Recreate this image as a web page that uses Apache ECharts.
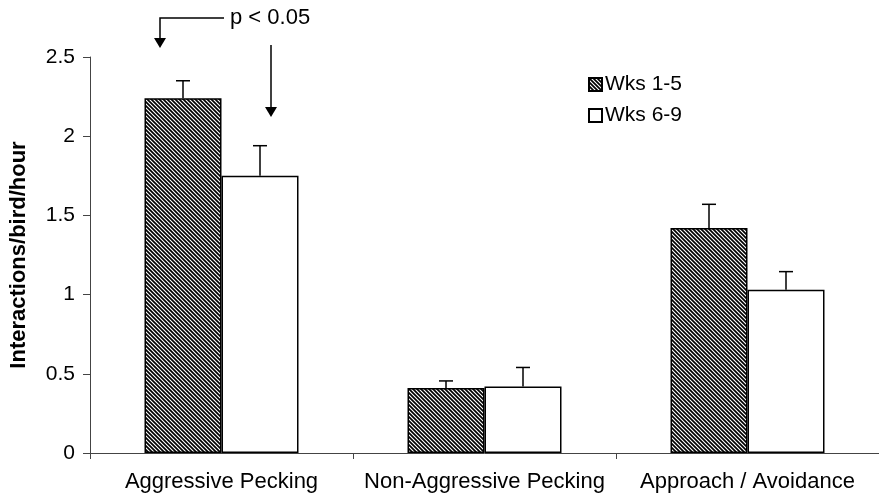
<!DOCTYPE html>
<html>
<head>
<meta charset="utf-8">
<script src="https://cdn.jsdelivr.net/npm/echarts@6/dist/echarts.min.js"></script>
<style>html,body{margin:0;padding:0;background:#fff;}#c{width:879px;height:497px;}</style>
</head>
<body>
<div id="c"></div>
<script>
var categories = ['Aggressive Pecking', 'Non-Aggressive Pecking', 'Approach / Avoidance'];
var seriesNames = ['Wks 1-5', 'Wks 6-9'];
var wks15 = [2.24, 0.41, 1.42];
var wks15Err = [0.11, 0.045, 0.15];
var wks69 = [1.75, 0.42, 1.03];
var wks69Err = [0.19, 0.12, 0.115];
var yTicks = [0, 0.5, 1, 1.5, 2, 2.5];
var annotationText = 'p < 0.05';

var FONT = '"Liberation Sans", Arial, sans-serif';

function hatch() {
  var c = document.createElement('canvas');
  c.width = 4; c.height = 4;
  var g = c.getContext('2d');
  g.fillStyle = '#fff';
  g.fillRect(0, 0, 4, 4);
  g.strokeStyle = '#000';
  g.lineWidth = 1.7;
  g.beginPath();
  g.moveTo(-1, -1); g.lineTo(5, 5);
  g.moveTo(-1, 3); g.lineTo(1, 5);
  g.moveTo(3, -1); g.lineTo(5, 1);
  g.stroke();
  return c;
}

var chart = echarts.init(document.getElementById('c'), null, {renderer: 'canvas'});
var BW = 77;

function errSeries(vals, errs, side) {
  return {
    type: 'custom',
    silent: true,
    z: 5,
    data: vals.map(function (v, i) { return [i, v, v + errs[i]]; }),
    renderItem: function (params, api) {
      var base = api.coord([api.value(0), api.value(1)]);
      var top = api.coord([api.value(0), api.value(2)]);
      var x = base[0] + side * BW / 2;
      var style = {stroke: '#000', lineWidth: 1.5};
      return {
        type: 'group',
        children: [
          {type: 'line', shape: {x1: x, y1: base[1], x2: x, y2: top[1]}, style: style},
          {type: 'line', shape: {x1: x - 7, y1: top[1], x2: x + 7, y2: top[1]}, style: style}
        ]
      };
    }
  };
}

var option = {
  animation: false,
  backgroundColor: '#fff',
  textStyle: {fontFamily: FONT},
  grid: {left: 89, right: 0, top: 57, bottom: 44, containLabel: false},
  legend: {
    orient: 'vertical',
    left: 583, top: 69,
    itemWidth: 13, itemHeight: 13, itemGap: 10,
    icon: 'rect',
    textStyle: {fontFamily: FONT, fontSize: 21, color: '#000', padding: [0, 0, 0, -2]},
    data: seriesNames
  },
  xAxis: {
    type: 'category',
    data: categories,
    axisLine: {lineStyle: {color: '#444', width: 1}},
    axisTick: {show: true, length: 6, lineStyle: {color: '#444'}},
    axisLabel: {color: '#000', fontSize: 22, fontFamily: FONT, margin: 18, interval: 0, hideOverlap: false}
  },
  yAxis: {
    type: 'value',
    min: 0, max: 2.5, interval: 0.5,
    name: 'Interactions/bird/hour',
    nameLocation: 'middle',
    nameGap: 60,
    nameTextStyle: {fontSize: 22, fontWeight: 'bold', color: '#000', fontFamily: FONT},
    axisLine: {show: true, lineStyle: {color: '#444', width: 1}},
    axisTick: {show: true, length: 7, lineStyle: {color: '#444'}},
    splitLine: {show: false},
    axisLabel: {color: '#000', fontSize: 21, fontFamily: FONT, margin: 15,
      formatter: function (v) { return yTicks.indexOf(v) >= 0 ? String(v) : ''; }}
  },
  series: [
    {
      name: seriesNames[0], type: 'bar', data: wks15, barWidth: BW, barGap: '0%',
      itemStyle: {color: {image: hatch(), repeat: 'repeat'}, borderColor: '#000', borderWidth: 1.5}
    },
    {
      name: seriesNames[1], type: 'bar', data: wks69, barWidth: BW, barGap: '0%',
      itemStyle: {color: '#fff', borderColor: '#000', borderWidth: 1.5}
    },
    errSeries(wks15, wks15Err, -1),
    errSeries(wks69, wks69Err, 1)
  ],
  graphic: [
    {type: 'polyline', shape: {points: [[224, 18], [160, 18], [160, 40]]}, style: {stroke: '#000', lineWidth: 1.5, fill: null}},
    {type: 'polygon', shape: {points: [[154, 38], [166, 38], [160, 48]]}, style: {fill: '#000'}},
    {type: 'line', shape: {x1: 271, y1: 45, x2: 271, y2: 110}, style: {stroke: '#000', lineWidth: 1.5}},
    {type: 'polygon', shape: {points: [[265, 107], [277, 107], [271, 117]]}, style: {fill: '#000'}},
    {type: 'text', left: 230, top: 7, style: {text: annotationText, font: '22px ' + FONT, fill: '#000'}}
  ]
};
chart.setOption(option);
</script>
</body>
</html>
